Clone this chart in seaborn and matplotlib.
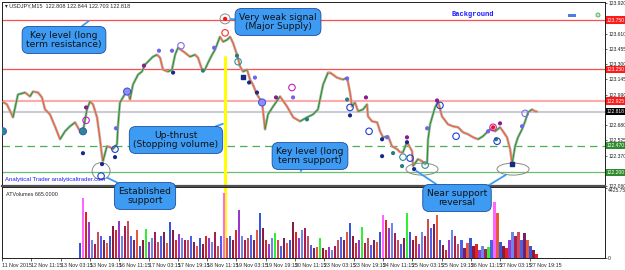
import numpy as np
import seaborn as sns
import matplotlib.pyplot as plt
from matplotlib.patches import Ellipse, Rectangle
from matplotlib.collections import LineCollection

# price path (hours from chart start, close price)
hours = [0, 2.7, 6.0, 8.7, 12.6, 15.3, 16.9, 19.7, 21.8, 23.5,
         26.2, 28.9, 31.7, 34.4, 37.1, 39.9, 42.6, 44.2, 46.4, 48.0,
         49.7, 51.9, 53.5, 54.6, 55.1, 57.3, 59.0, 60.6, 62.8, 63.3,
         64.4, 68.3, 69.9, 71.5, 74.3, 76.4, 78.1, 80.8, 82.4, 84.6,
         86.3, 87.9, 90.6, 92.8, 94.5, 96.1, 99.9, 102.6, 105.4, 107.0,
         109.2, 110.8, 112.5, 114.7, 116.3, 119.0, 120.7, 122.9, 124.5, 126.1,
         128.3, 130.0, 131.6, 133.8, 135.4, 137.0, 139.2, 142.0, 143.6, 145.2,
         148.0, 151.8, 155.6, 159.0, 162.7, 166.5, 169.8, 172.5, 175.3, 178.0,
         179.1, 182.9, 186.2, 188.4, 190.0, 191.1, 192.7, 194.4, 197.1, 199.3,
         199.8, 202.0, 204.8, 206.4, 208.0, 210.8, 212.9, 215.7, 217.3, 218.9,
         221.1, 223.9, 224.4, 227.1, 229.3, 231.0, 232.1, 232.6, 233.7, 236.4,
         238.1, 240.2, 243.5, 246.2, 249.0, 251.7, 254.4, 257.2, 259.9, 262.6,
         266.4, 269.2, 271.9, 273.5, 275.7, 277.4, 278.5, 280.1, 281.7, 283.9,
         285.6, 287.2, 289.4, 291.0, 292.1]
price = [122.921, 122.891, 122.759, 122.992, 123.012, 122.972, 123.022, 123.012, 122.962, 122.840,
         122.789, 122.668, 122.536, 122.617, 122.668, 122.708, 122.617, 122.617, 122.840, 122.921,
         122.891, 122.759, 122.536, 122.364, 122.313, 122.465, 122.455, 122.435, 122.486, 122.668,
         122.911, 123.033, 122.941, 123.093, 123.195, 123.225, 123.296, 123.347, 123.377, 123.397,
         123.367, 123.245, 123.225, 123.245, 123.397, 123.468, 123.418, 123.377, 123.397, 123.367,
         123.245, 123.245, 123.316, 123.397, 123.448, 123.580, 123.529, 123.549, 123.580, 123.519,
         123.397, 123.276, 123.225, 123.245, 123.144, 123.093, 122.992, 122.911, 122.637, 122.789,
         122.870, 122.972, 122.870, 122.759, 122.719, 122.759, 122.789, 122.840, 123.093, 123.215,
         123.215, 123.164, 123.144, 123.164, 123.012, 122.870, 122.911, 122.820, 122.840, 122.891,
         122.769, 122.719, 122.708, 122.617, 122.556, 122.567, 122.465, 122.435, 122.405, 122.405,
         122.506, 122.415, 122.263, 122.334, 122.313, 122.283, 122.303, 122.536, 122.688, 122.860,
         122.921, 122.769, 122.688, 122.668, 122.658, 122.607, 122.587, 122.556, 122.536, 122.567,
         122.637, 122.617, 122.658, 122.617, 122.556, 122.435, 122.283, 122.465, 122.556, 122.637,
         122.719, 122.810, 122.840, 122.820, 122.818]

# ATVolumes histogram
volume = [950, 3790, 2910, 2280, 1140, 885, 1640, 1390, 1140, 950,
          1390, 2020, 1770, 2340, 1390, 2020, 2340, 1390, 1140, 1770,
          760, 1140, 1830, 1010, 1260, 1640, 1010, 1390, 1640, 950,
          2280, 1770, 1140, 1520, 1260, 1140, 1140, 1390, 1010, 760,
          1260, 885, 1390, 1260, 1010, 1640, 760, 1390, 4110, 1260,
          1390, 1140, 1770, 3030, 1390, 1140, 1260, 1450, 1140, 1770,
          2840, 1900, 1140, 885, 1260, 1580, 1140, 760, 1260, 950,
          1140, 2280, 1640, 1260, 1770, 1900, 1390, 820, 630, 695,
          1260, 630, 505, 695, 505, 760, 1140, 1330, 1140, 1640,
          2210, 1390, 950, 1140, 1960, 950, 1260, 820, 1140, 1010,
          1640, 2720, 2400, 1900, 2210, 1580, 1140, 885, 1260, 2840,
          1640, 1140, 1390, 885, 1640, 1390, 2460, 1900, 2150, 2720,
          1140, 820, 505, 1140, 1770, 1390, 885, 1140, 630, 950,
          1260, 760, 885, 505, 760, 570, 695, 1140, 3540, 2840,
          1010, 760, 630, 1140, 1640, 1390, 1640, 1140, 1580, 1140,
          760, 505, 250]
vol_start, vol_step = 42.6, 1.638
vol_pink = [1, 48, 101, 138]
vol_green = [22, 65, 80, 94, 109, 136]

# signal dots
dot_t = [45.9, 77.5, 149.6, 198.7, 221.1, 237.5, 271.9,
         62.2, 85.7, 92.8, 115.8, 138.1, 158.9, 188.4, 210.2, 232.1, 265.4, 283.9,
         44.2, 54.6, 61.7, 93.4, 134.9, 139.2, 190.0, 207.5, 207.5, 221.1, 225.0,
         109.7, 128.3, 188.4, 213.5, 218.4, 269.7, 166.5,
         121.8, 268.1]
dot_p = [122.860, 123.286, 122.962, 122.962, 122.556, 122.931, 122.698,
         122.648, 123.438, 123.438, 123.468, 123.164, 122.962, 123.154, 122.556, 122.648, 122.617, 122.668,
         122.394, 122.283, 122.354, 123.215, 123.114, 123.012, 122.779, 122.536, 122.364, 122.506, 122.232,
         123.235, 123.387, 122.941, 122.395, 122.263, 122.536, 122.739,
         123.762, 122.658]
dot_kind = ["mag"] * 7 + ["vio"] * 11 + ["navy"] * 11 + ["teal"] * 7 + ["red"] * 2
sq_t = [131.6, 278.5]
sq_p = [123.174, 122.283]
big_t = [68.3, 142.0, 44.2, 0.5]
big_p = [123.022, 122.911, 122.617, 122.617]
big_kind = ["lav", "lav", "teal", "teal"]

ring_t = [54.1, 61.7, 190.0, 200.4, 222.8, 239.1, 247.9, 270.3,
          97.7, 285.6, 45.9, 158.3, 268.1, 121.8, 128.9, 218.9, 231.0]
ring_p = [122.161, 122.435, 122.860, 122.617, 122.344, 122.881, 122.567, 122.516,
          123.488, 122.800, 122.729, 123.063, 122.658, 123.620, 123.326, 122.354, 122.273]
ring_kind = ["blue"] * 8 + ["vio"] * 2 + ["mag"] * 3 + ["red"] + ["teal"] * 3

levels_red = [123.750, 123.250]
level_weak = 122.925
level_now = 122.818
level_dash = 122.470
level_support = 122.200
upthrust_t = 121.8

price_ticks = [122.060, 122.215, 122.370, 122.525, 122.680, 122.835, 122.990,
               123.145, 123.300, 123.455, 123.610, 123.920]
date_labels = ["11 Nov 2015", "12 Nov 11:15", "13 Nov 03:15", "13 Nov 19:15", "16 Nov 11:15",
               "17 Nov 03:15", "17 Nov 19:15", "18 Nov 11:15", "19 Nov 03:15", "19 Nov 19:15",
               "20 Nov 11:15", "23 Nov 03:15", "23 Nov 19:15", "24 Nov 11:15", "25 Nov 03:15",
               "25 Nov 19:15", "26 Nov 11:15", "27 Nov 03:15", "27 Nov 19:15"]

sns.set_style("white")
plt.rcParams["font.family"] = ["DejaVu Sans"]
small = ["Liberation Sans Narrow", "Liberation Sans", "DejaVu Sans"]

W, H = 625, 270
fig = plt.figure(figsize=(6.25, 2.7), dpi=100)
ax = fig.add_axes([2 / W, (H - 186) / H, 603 / W, 184 / H])
axv = fig.add_axes([2 / W, (H - 258) / H, 603 / W, 71 / H])
ax.set_zorder(3)
ax.patch.set_alpha(0)

def fp(x, y):
    return (x, H - y)

xmax = 329.2
for a in (ax, axv):
    a.set_xlim(0, xmax)
    for s in a.spines.values():
        s.set_color("#202020")
        s.set_linewidth(0.7)
ax.set_ylim(122.070, 123.934)
axv.set_ylim(0, 4480)
ax.spines["bottom"].set_linewidth(1.6)
ax.spines["bottom"].set_color("#505050")

# levels
for lv in levels_red:
    ax.axhline(lv, color="#ff4c4c", lw=0.9, zorder=1)
ax.axhline(level_weak, color="#ffaaaa", lw=1.5, zorder=1)
ax.axhline(level_now, color="#c9ccd4", lw=1.5, zorder=1)
ax.axhline(level_dash, color="#4caf50", lw=0.9, ls=(0, (6, 4)), zorder=1)
ax.axhline(level_support, color="#6abf6a", lw=0.9, zorder=1)
ax.plot([upthrust_t, upthrust_t], [ax.get_ylim()[0], 123.37], color="#ffff00", lw=2.2, zorder=1)
axv.axvline(upthrust_t, color="#ffff00", lw=2.2, zorder=0)

# price line: gray bar texture + up/down coloured close
sns.lineplot(x=hours, y=price, ax=ax, color="#b4b4b4", lw=1.9, sort=False, zorder=2)
pts = np.column_stack([hours, price])
segs = np.stack([pts[:-1], pts[1:]], axis=1)
cols = ["#1f9a1f" if b > a else "#ff5a28" for a, b in zip(price[:-1], price[1:])]
ax.add_collection(LineCollection(segs, colors=cols, linewidths=0.8, zorder=3))

# ellipses around support tests
for (cx, cy, w, h) in [(54.1, 122.212, 9.8, 0.172), (229.3, 122.232, 17.5, 0.122),
                       (279.0, 122.232, 17.5, 0.122), (121.8, 123.762, 5.5, 0.101)]:
    ax.add_patch(Ellipse((cx, cy), w, h, fill=False, ec="#8a8a8a", lw=0.7, zorder=4))

dot_pal = {"mag": "#8e1a8e", "vio": "#6f63f0", "navy": "#182a86", "teal": "#2a7d7d", "red": "#ff1010"}
sns.scatterplot(x=dot_t, y=dot_p, hue=dot_kind, palette=dot_pal, s=9, linewidth=0,
                legend=False, ax=ax, zorder=6)
ax.scatter(sq_t, sq_p, marker="s", s=11, color="#182a86", zorder=6)
big_pal = {"lav": "#8f8cff", "teal": "#2a8a8a"}
sns.scatterplot(x=big_t, y=big_p, hue=big_kind, palette=big_pal, s=26, linewidth=0.7,
                edgecolor="#3a4fd0", legend=False, ax=ax, zorder=6)
ring_pal = {"blue": "#1f3fcf", "vio": "#7b6cf2", "mag": "#c21fc2", "red": "#ff2a2a", "teal": "#2f8f8f"}
for k, c in ring_pal.items():
    tt = [t for t, kk in zip(ring_t, ring_kind) if kk == k]
    pp = [p for p, kk in zip(ring_p, ring_kind) if kk == k]
    ax.scatter(tt, pp, s=22, facecolors="none", edgecolors=c, linewidths=0.8, zorder=7)

# right price axis
ax.yaxis.tick_right()
ax.set_yticks(price_ticks)
ax.set_yticklabels([f"{v:.3f}" for v in price_ticks], fontsize=3.6, color="#202020", family=small)
ax.tick_params(axis="y", length=1.5, width=0.5, pad=0.8, right=True)
ax.set_xticks([])
ax.set_xlabel("")
ax.set_ylabel("")
tr = ax.get_yaxis_transform()
for v, fc, tc in [(123.750, "#ff1a1a", "white"), (123.250, "#ff1a1a", "white"),
                  (level_weak, "#ff1a1a", "white"), (level_now, "#000000", "white"),
                  (level_dash, "#2e8b2e", "white"), (level_support, "#2e8b2e", "white")]:
    ax.text(1.003, v, f"{v:.3f}", transform=tr, fontsize=3.6, color=tc, va="center", ha="left",
            family=small, clip_on=False,
            bbox=dict(boxstyle="square,pad=0.22", fc=fc, ec="none"), zorder=10)

# volume bars
vt = [vol_start + i * vol_step for i in range(len(volume))]
base = ["#3556dc", "#8b1a3c", "#e02424", "#9a35cf", "#6c86ee", "#a52050", "#d04a5a", "#4a62e8", "#7a1f5f", "#e45a3a"]
vcol = [base[i % len(base)] for i in range(len(volume))]
for i in vol_pink:
    vcol[i] = "#ff66ff"
for i in vol_green:
    vcol[i] = "#33ee33"
axv.bar(vt, volume, width=vol_step * 0.95, color=vcol, linewidth=0, zorder=2)
axv.yaxis.tick_right()
axv.set_yticks([0, 4425.75])
axv.set_yticklabels(["0", "4425.75"], fontsize=3.6, family=small)
axv.get_yticklabels()[1].set_verticalalignment("top")
axv.tick_params(axis="y", length=1.5, width=0.5, pad=0.8, right=True)
axv.set_xticks([16 * i for i in range(len(date_labels))])
axv.set_xticklabels(date_labels, fontsize=3.8, ha="left", family=small)
axv.tick_params(axis="x", length=2.5, width=0.5, pad=1, bottom=True)
axv.text(0.006, 0.93, "ATVolumes 665.0000", transform=axv.transAxes, fontsize=3.9, va="top", family=small)

# header texts
fig.text(5 / W, 1 - 6 / H, "\u25be USDJPY,M15  122.808 122.844 122.703 122.818", fontsize=4.0,
         va="center", family=small)
fig.text(5 / W, 1 - 180 / H, "Analytical Trader analyticaltrader.com", fontsize=4.3, color="#1a1aff",
         va="center", family=small)
fig.text(452 / W, 1 - 15 / H, "Background", fontsize=5, color="#1a1aff", weight="bold",
         family="Liberation Mono", va="center")
fig.patches.append(Rectangle((568 / W, 1 - 16.5 / H), 8 / W, 3 / H, transform=fig.transFigure,
                             fc="#4a7fe0", ec="none"))
fig.patches.append(Ellipse((598 / W, 1 - 15 / H), 4 / W, 4 / H, transform=fig.transFigure,
                           fc="#bfe8bf", ec="#4caf50", lw=0.6))

# callouts
box = dict(boxstyle="round,pad=0.45,rounding_size=0.7", fc="#3d9bf3", ec="#1c4d9a", lw=0.6)
arr = dict(arrowstyle="-", color="#3d9bf3", lw=1.3, shrinkA=0, shrinkB=1)
tk = dict(ha="center", va="center", fontsize=6.6, color="#111111", linespacing=1.1,
          textcoords="figure pixels", bbox=box, arrowprops=arr, zorder=20,
          annotation_clip=False)
ax.annotate("Key level (long\nterm resistance)", xy=(48.0, 123.750), xytext=fp(64, 40), **tk)
ax.annotate("Very weak signal\n(Major Supply)", xy=(124.0, 123.762), xytext=fp(278, 22), **tk)
ax.annotate("Up-thrust\n(Stopping volume)", xy=(121.3, 122.698), xytext=fp(176, 140), **tk)
ax.annotate("Key level (long\nterm support)", xy=(162.7, 122.200), xytext=fp(310, 156), **tk)
ax.annotate("Established\nsupport", xy=(56.8, 122.150), xytext=fp(145, 196), **tk)
ax.annotate("", xy=(275.7, 122.181), xytext=fp(486, 187), textcoords="figure pixels",
            arrowprops=arr, annotation_clip=False, zorder=19)
ax.annotate("Near support\nreversal", xy=(225.5, 122.222), xytext=fp(457, 198), **tk)

fig.savefig("out.png", dpi=100)
